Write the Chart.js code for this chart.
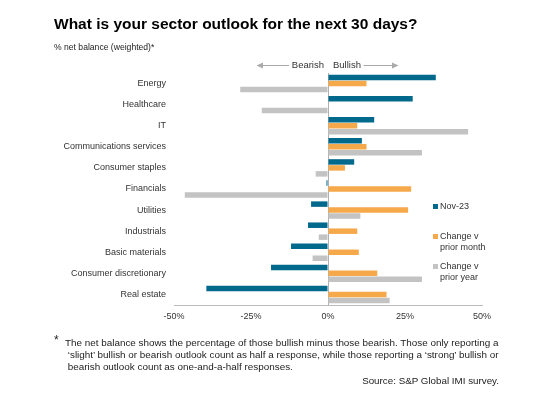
<!DOCTYPE html>
<html>
<head>
<meta charset="utf-8">
<script src="https://cdn.jsdelivr.net/npm/chart.js@4/dist/chart.umd.min.js"></script>
<style>
  html, body { margin:0; padding:0; background:#fff; }
  body { width:558px; height:395px; position:relative; overflow:hidden; font-family:"Liberation Sans", Arial, sans-serif; color:#222; }
  #wrap { position:absolute; left:0; top:0; width:558px; height:395px; }
  .abs { position:absolute; white-space:nowrap; }
  #title { left:54px; top:16px; font-size:15.5px; font-weight:bold; line-height:1; color:#000; }
  #sub { left:54px; top:42.5px; font-size:8.6px; line-height:1; color:#222; }
  .leg { font-size:9px; line-height:10.5px; color:#333; }
  .sw { position:absolute; width:5px; height:5px; }
  #star { left:54px; top:334px; font-size:12px; line-height:1; color:#222; }
  #note { left:65px; top:336.5px; font-size:9.9px; line-height:12.4px; color:#222; }
  #src { right:59px; top:375.5px; font-size:9.8px; line-height:1; color:#222; }
</style>
</head>
<body>
<div id="wrap"><canvas id="c" width="558" height="395"></canvas></div>
<div id="title" class="abs">What is your sector outlook for the next 30 days?</div>
<div id="sub" class="abs">% net balance (weighted)*</div>

<div class="sw" style="left:433px;top:204px;background:#00698C"></div>
<div class="abs leg" style="left:440px;top:201px;">Nov-23</div>
<div class="sw" style="left:433px;top:234px;background:#F6A94A"></div>
<div class="abs leg" style="left:440px;top:231px;">Change v<br>prior month</div>
<div class="sw" style="left:433px;top:264px;background:#C3C3C3"></div>
<div class="abs leg" style="left:440px;top:261px;">Change v<br>prior year</div>

<div id="star" class="abs">*</div>
<div id="note" class="abs">The net balance shows the percentage of those bullish minus those bearish. Those only reporting a<br>&nbsp;‘slight’ bullish or bearish outlook count as half a response, while those reporting a ‘strong’ bullish or<br>&nbsp;bearish outlook count as one-and-a-half responses.</div>
<div id="src" class="abs">Source: S&amp;P Global IMI survey.</div>

<script>
const categories = ['Energy','Healthcare','IT','Communications services','Consumer staples','Financials','Utilities','Industrials','Basic materials','Consumer discretionary','Real estate'];
const nov23 = [35, 27.5, 15, 11, 8.5, -0.5, -5.5, -6.5, -12, -18.5, -39.5];
const changeMonth = [12.5, 0, 9.5, 12.5, 5.5, 27, 26, 9.5, 10, 16, 19];
const changeYear = [-28.5, -21.5, 45.5, 30.5, -4, -46.5, 10.5, -3, -5, 30.5, 20];
const xTicks = [-50, -25, 0, 25, 50];

const FONT = '"Liberation Sans", Arial, sans-serif';

const arrowPlugin = {
  id: 'bearBull',
  afterDraw(chart) {
    const ctx = chart.ctx;
    const x0 = chart.scales.x.getPixelForValue(0);
    const y = 65.5;
    ctx.save();
    ctx.font = '9.5px ' + FONT;
    ctx.fillStyle = '#333';
    ctx.textBaseline = 'middle';
    ctx.textAlign = 'right';
    ctx.fillText('Bearish', x0 - 4, y);
    ctx.textAlign = 'left';
    ctx.fillText('Bullish', x0 + 5, y);
    ctx.strokeStyle = '#AAAAAA';
    ctx.fillStyle = '#AAAAAA';
    ctx.lineWidth = 1;
    ctx.beginPath(); ctx.moveTo(x0 - 39, y); ctx.lineTo(x0 - 67, y); ctx.stroke();
    ctx.beginPath(); ctx.moveTo(x0 - 71.5, y); ctx.lineTo(x0 - 65, y - 3); ctx.lineTo(x0 - 65, y + 3); ctx.closePath(); ctx.fill();
    ctx.beginPath(); ctx.moveTo(x0 + 35.5, y); ctx.lineTo(x0 + 66, y); ctx.stroke();
    ctx.beginPath(); ctx.moveTo(x0 + 70.5, y); ctx.lineTo(x0 + 64, y - 3); ctx.lineTo(x0 + 64, y + 3); ctx.closePath(); ctx.fill();
    ctx.restore();
  }
};

new Chart(document.getElementById('c'), {
  type: 'bar',
  data: {
    labels: categories,
    datasets: [
      { label: 'Nov-23', data: nov23, backgroundColor: '#00698C' },
      { label: 'Change v prior month', data: changeMonth, backgroundColor: '#F6A94A' },
      { label: 'Change v prior year', data: changeYear, backgroundColor: '#C3C3C3' }
    ]
  },
  options: {
    indexAxis: 'y',
    responsive: false,
    animation: false,
    devicePixelRatio: 1,
    categoryPercentage: 0.85,
    barPercentage: 0.92,
    layout: { padding: { left: 0, top: 73, right: 76, bottom: 70 } },
    plugins: { legend: { display: false }, tooltip: { enabled: false } },
    scales: {
      x: {
        min: -50, max: 50,
        afterFit(s) { s.height = 20; },
        afterBuildTicks(s) { s.ticks = xTicks.map(v => ({ value: v })); },
        ticks: { callback: v => v + '%', color: '#333', font: { family: FONT, size: 9 }, padding: 6, maxRotation: 0 },
        grid: {
          drawTicks: false,
          color: ctx => (ctx.tick && ctx.tick.value === 0) ? '#B0B0B0' : 'rgba(0,0,0,0)',
          lineWidth: 1
        },
        border: { display: true, color: '#BBBBBB', width: 1 }
      },
      y: {
        afterFit(s) { s.width = 174; },
        ticks: { color: '#333', font: { family: FONT, size: 9 }, padding: 8 },
        grid: { display: false, drawTicks: false },
        border: { display: false }
      }
    }
  },
  plugins: [arrowPlugin]
});
</script>
</body>
</html>
